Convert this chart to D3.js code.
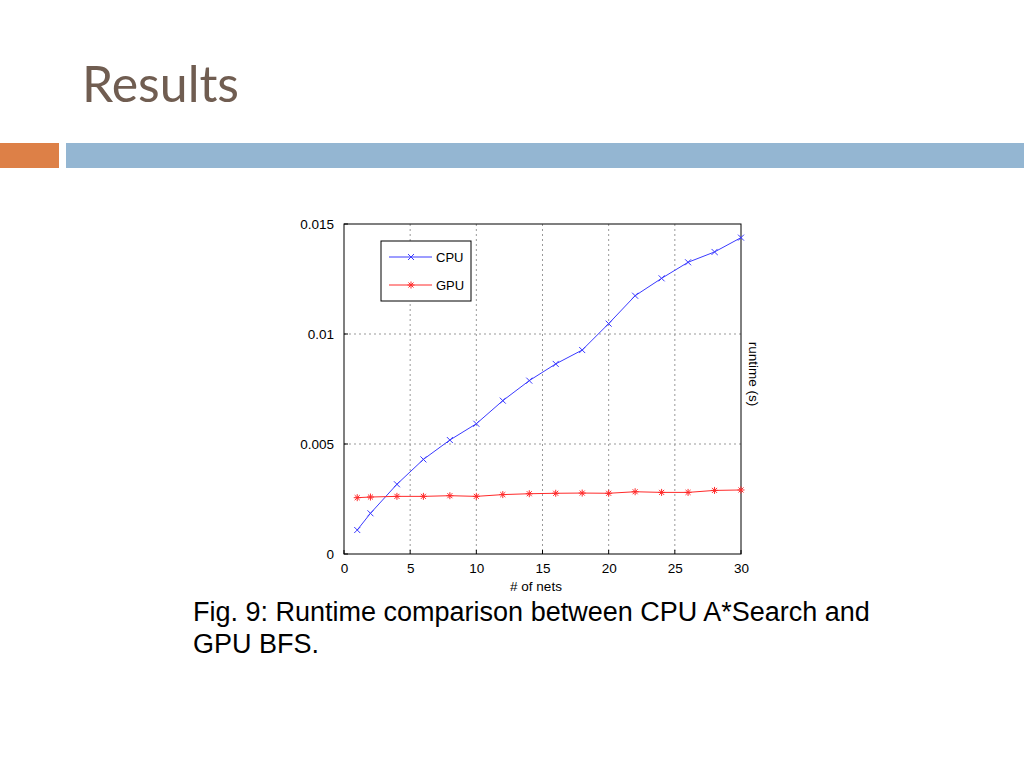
<!DOCTYPE html>
<html>
<head>
<meta charset="utf-8">
<script src="https://cdn.jsdelivr.net/npm/d3@7"></script>
<style>
  html, body { margin: 0; padding: 0; background: #fff; }
  svg { display: block; }
</style>
</head>
<body>
<svg id="chart" width="1024" height="768"></svg>
<script>
// ---- data ----
const nets = [1, 2, 4, 6, 8, 10, 12, 14, 16, 18, 20, 22, 24, 26, 28, 30];
const cpuRuntime = [0.00109, 0.00185, 0.00317, 0.0043, 0.00518, 0.00592, 0.00697, 0.00788,
                    0.00864, 0.00927, 0.01047, 0.01174, 0.01253, 0.01326, 0.01373, 0.01438];
const gpuRuntime = [0.00256, 0.00259, 0.00262, 0.00262, 0.00265, 0.00262, 0.0027, 0.00274,
                    0.00276, 0.00277, 0.00276, 0.00283, 0.0028, 0.0028, 0.00289, 0.00291];
const xTicks = [0, 5, 10, 15, 20, 25, 30];
const yTicks = [0, 0.005, 0.01, 0.015];
const yTickLabels = ["0", "0.005", "0.01", "0.015"];
const seriesNames = ["CPU", "GPU"];

const svg = d3.select("#chart");
const sans = "'Liberation Sans', Arial, sans-serif";

// ---- slide decoration ----
svg.append("text")
  .attr("x", 82).attr("y", 102)
  .attr("font-family", "Lato, 'Open Sans', sans-serif")
  .attr("font-size", 50)
  .attr("fill", "#705d51")
  .text("Results");

svg.append("rect").attr("x", 0).attr("y", 143).attr("width", 59).attr("height", 25).attr("fill", "#dd8047");
svg.append("rect").attr("x", 66).attr("y", 143).attr("width", 958).attr("height", 25).attr("fill", "#94b6d2");

// ---- chart ----
const pL = 344, pR = 741, pT = 224, pB = 554;
const x = d3.scaleLinear().domain([0, 30]).range([pL, pR]);
const y = d3.scaleLinear().domain([0, 0.015]).range([pB, pT]);

const g = svg.append("g");

// grid
g.append("g").selectAll("line").data(xTicks.slice(1, -1)).join("line")
  .attr("x1", d => x(d)).attr("x2", d => x(d))
  .attr("y1", pT).attr("y2", pB)
  .attr("stroke", "#999").attr("stroke-width", 1).attr("stroke-dasharray", "2,3");
g.append("g").selectAll("line").data(yTicks.slice(1, -1)).join("line")
  .attr("x1", pL).attr("x2", pR)
  .attr("y1", d => y(d)).attr("y2", d => y(d))
  .attr("stroke", "#999").attr("stroke-width", 1).attr("stroke-dasharray", "2,3");

// axes
const xAxis = d3.axisBottom(x).tickValues(xTicks).tickSize(0).tickPadding(9).tickFormat(d3.format("d"));
const yAxis = d3.axisLeft(y).tickValues(yTicks).tickSize(0).tickPadding(10)
  .tickFormat((d, i) => yTickLabels[i]);

const xa = g.append("g").attr("transform", `translate(0,${pB})`).call(xAxis);
const ya = g.append("g").attr("transform", `translate(${pL},0)`).call(yAxis);
[xa, ya].forEach(a => {
  a.select(".domain").remove();
  a.selectAll("text").attr("font-family", sans)
    .attr("font-size", 13.5).attr("fill", "#000");
});
ya.selectAll("text").attr("dy", "0.3em");

// inner ticks
g.append("g").selectAll("line").data(xTicks).join("line")
  .attr("x1", d => x(d)).attr("x2", d => x(d)).attr("y1", pB).attr("y2", pB - 4)
  .attr("stroke", "#000");
g.append("g").selectAll("line").data(yTicks).join("line")
  .attr("x1", pL).attr("x2", pL + 4).attr("y1", d => y(d)).attr("y2", d => y(d))
  .attr("stroke", "#000");

// frame
g.append("rect").attr("x", pL).attr("y", pT).attr("width", pR - pL).attr("height", pB - pT)
  .attr("fill", "none").attr("stroke", "#000").attr("stroke-width", 1);

// axis labels
g.append("text").attr("x", 536).attr("y", 591)
  .attr("text-anchor", "middle")
  .attr("font-family", sans).attr("font-size", 13.5)
  .text("# of nets");
g.append("text")
  .attr("transform", `translate(749,374) rotate(90)`)
  .attr("text-anchor", "middle")
  .attr("font-family", sans).attr("font-size", 13.5)
  .text("runtime (s)");

// series
const cpuData = nets.map((n, i) => [n, cpuRuntime[i]]);
const gpuData = nets.map((n, i) => [n, gpuRuntime[i]]);
const line = d3.line().x(d => x(d[0])).y(d => y(d[1]));

const colors = { CPU: "#3a3aff", GPU: "#ff2a2a" };

function xMarker(sel, cx, cy, r, color) {
  sel.append("path")
    .attr("d", `M${cx - r},${cy - r}L${cx + r},${cy + r}M${cx - r},${cy + r}L${cx + r},${cy - r}`)
    .attr("stroke", color).attr("stroke-width", 1).attr("fill", "none");
}
function starMarker(sel, cx, cy, r, color) {
  const d = r * 0.72;
  sel.append("path")
    .attr("d", `M${cx - r},${cy}L${cx + r},${cy}M${cx},${cy - r}L${cx},${cy + r}` +
               `M${cx - d},${cy - d}L${cx + d},${cy + d}M${cx - d},${cy + d}L${cx + d},${cy - d}`)
    .attr("stroke", color).attr("stroke-width", 1).attr("fill", "none");
}

g.append("path").datum(cpuData).attr("d", line)
  .attr("fill", "none").attr("stroke", colors.CPU).attr("stroke-width", 1);
g.append("path").datum(gpuData).attr("d", line)
  .attr("fill", "none").attr("stroke", colors.GPU).attr("stroke-width", 1);

const mk = g.append("g");
cpuData.forEach(d => xMarker(mk, x(d[0]), y(d[1]), 3, colors.CPU));
gpuData.forEach(d => starMarker(mk, x(d[0]), y(d[1]), 3.5, colors.GPU));

// legend
const lg = g.append("g");
lg.append("rect").attr("x", 381).attr("y", 241).attr("width", 90).attr("height", 60)
  .attr("fill", "#fff").attr("stroke", "#000").attr("stroke-width", 1);
seriesNames.forEach((name, i) => {
  const ly = 257 + i * 28;
  lg.append("line").attr("x1", 389).attr("x2", 432).attr("y1", ly).attr("y2", ly)
    .attr("stroke", colors[name]).attr("stroke-width", 1);
  if (name === "CPU") xMarker(lg, 411, ly, 3, colors[name]);
  else starMarker(lg, 411, ly, 3.5, colors[name]);
  lg.append("text").attr("x", 436).attr("y", ly).attr("dy", "0.35em")
    .attr("font-family", sans).attr("font-size", 13)
    .text(name);
});

// caption
const cap = svg.append("text")
  .attr("font-family", sans)
  .attr("font-size", 27).attr("fill", "#000");
cap.append("tspan").attr("x", 193).attr("y", 621).text("Fig. 9: Runtime comparison between CPU A*Search and");
cap.append("tspan").attr("x", 193).attr("y", 653).text("GPU BFS.");
</script>
</body>
</html>
